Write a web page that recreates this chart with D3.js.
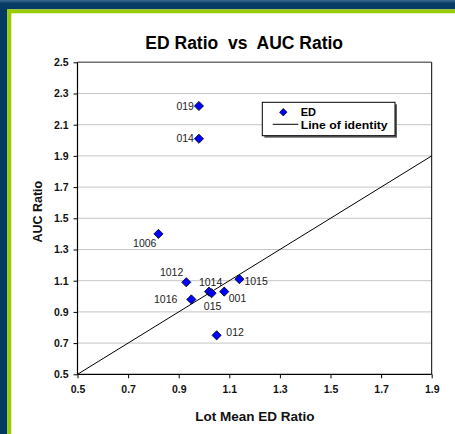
<!DOCTYPE html>
<html>
<head>
<meta charset="utf-8">
<script src="https://cdn.jsdelivr.net/npm/d3@7"></script>
<style>
  body { margin: 0; background: #fff; }
  svg { display: block; }
  text { font-family: "Liberation Sans", Arial, Helvetica, sans-serif; }
</style>
</head>
<body>
<svg id="chart" width="455" height="434"></svg>
<script>
// Lot identifiers and their ratios
const lots     = ["019", "014", "1006", "1012", "1014", "015", "001", "1016", "1015", "012"];
const edRatio  = [0.98, 0.98, 0.82, 0.93, 1.02, 1.03, 1.08, 0.95, 1.14, 1.05];
const aucRatio = [2.22, 2.01, 1.40, 1.09, 1.03, 1.02, 1.03, 0.98, 1.11, 0.75];

// Axis ticks
const xTicks = [0.5, 0.7, 0.9, 1.1, 1.3, 1.5, 1.7, 1.9];
const yTicks = [0.5, 0.7, 0.9, 1.1, 1.3, 1.5, 1.7, 1.9, 2.1, 2.3, 2.5];

// Line of identity end points (x = y)
const identity = [0.5, 1.9];

const points = lots.map((lot, i) => ({ lot, ed: edRatio[i], auc: aucRatio[i] }));

// Where each point label sits relative to its marker
const labelPlacement = {
  "019":  { anchor: "end",    dx: -5,   dy: 3.6 },
  "014":  { anchor: "end",    dx: -5,   dy: 3.6 },
  "1006": { anchor: "end",    dx: -2,   dy: 12.7 },
  "1012": { anchor: "end",    dx: -3,   dy: -6 },
  "1014": { anchor: "middle", dx: 1.5,  dy: -6 },
  "015":  { anchor: "middle", dx: 1,    dy: 17 },
  "001":  { anchor: "start",  dx: 4.5,  dy: 10 },
  "1016": { anchor: "end",    dx: -14,  dy: 4 },
  "1015": { anchor: "start",  dx: 5,    dy: 5.7 },
  "012":  { anchor: "start",  dx: 9.7,  dy: 0.7 }
};

const svg = d3.select("#chart");
const W = 455, H = 434;

// Frame: dark blue bars on top and left, lime stripe inside them
const defs = svg.append("defs");
const grad = defs.append("linearGradient").attr("id", "topbar")
  .attr("x1", 0).attr("y1", 0).attr("x2", 0).attr("y2", 1);
grad.append("stop").attr("offset", "0%").attr("stop-color", "#3d6a90");
grad.append("stop").attr("offset", "35%").attr("stop-color", "#0a3d66");
grad.append("stop").attr("offset", "100%").attr("stop-color", "#033a63");

svg.append("rect").attr("x", 0).attr("y", 0).attr("width", W).attr("height", H).attr("fill", "#fff");
svg.append("rect").attr("x", 0).attr("y", 0).attr("width", 7.3).attr("height", H).attr("fill", "#033a63");
svg.append("rect").attr("x", 0).attr("y", 0).attr("width", W).attr("height", 9.4).attr("fill", "url(#topbar)");
svg.append("rect").attr("x", 7.3).attr("y", 9.4).attr("width", W - 7.3).attr("height", 3.9).attr("fill", "#99cc00");
svg.append("rect").attr("x", 7.3).attr("y", 9.4).attr("width", 4).attr("height", H - 9.4).attr("fill", "#99cc00");

// Plot area
const plot = { left: 77.5, right: 431.7, top: 62.3, bottom: 374.3 };
const x = d3.scaleLinear().domain([0.5, 1.9]).range([plot.left, plot.right]);
const y = d3.scaleLinear().domain([0.5, 2.5]).range([plot.bottom, plot.top]);

// Horizontal gridlines
svg.append("g")
  .selectAll("line")
  .data(yTicks.filter(v => v > 0.5 && v < 2.5))
  .join("line")
  .attr("x1", plot.left).attr("x2", plot.right)
  .attr("y1", d => y(d)).attr("y2", d => y(d))
  .attr("stroke", "#c4c4c4").attr("stroke-width", 1);

// Plot border: grey top, black right
svg.append("line")
  .attr("x1", plot.left).attr("x2", plot.right)
  .attr("y1", y(2.5)).attr("y2", y(2.5))
  .attr("stroke", "#707070").attr("stroke-width", 1.5);
svg.append("line")
  .attr("x1", plot.right).attr("x2", plot.right)
  .attr("y1", plot.top).attr("y2", plot.bottom)
  .attr("stroke", "#000").attr("stroke-width", 1);

const tickFont = "bold 10.5px 'Liberation Sans', Arial, sans-serif";

// X axis
const xAxis = svg.append("g")
  .attr("transform", `translate(0,${plot.bottom})`)
  .call(d3.axisBottom(x).tickValues(xTicks).tickFormat(d3.format(".1f")).tickSize(4).tickPadding(7));
// Y axis
const yAxis = svg.append("g")
  .attr("transform", `translate(${plot.left},0)`)
  .call(d3.axisLeft(y).tickValues(yTicks).tickFormat(d3.format(".1f")).tickSize(4).tickPadding(5));

[xAxis, yAxis].forEach(g => {
  g.select(".domain").attr("stroke", "#000").attr("stroke-width", 1.2);
  g.selectAll(".tick line").attr("stroke", "#000");
  g.selectAll(".tick text")
    .attr("fill", "#111")
    .style("font", tickFont);
});
xAxis.select(".domain").attr("d", `M${plot.left},0H${plot.right}`);
yAxis.select(".domain").attr("d", `M0,${plot.top}V${plot.bottom}`);

// Line of identity
svg.append("line")
  .attr("x1", x(identity[0])).attr("y1", y(identity[0]))
  .attr("x2", x(identity[1])).attr("y2", y(identity[1]))
  .attr("stroke", "#000").attr("stroke-width", 1);

// Diamond markers
const r = 4.6;
const diamond = (cx, cy, rad = r) =>
  `M${cx},${cy - rad}L${cx + rad},${cy}L${cx},${cy + rad}L${cx - rad},${cy}Z`;

svg.append("g")
  .selectAll("path")
  .data(points)
  .join("path")
  .attr("d", d => diamond(x(d.ed), y(d.auc)))
  .attr("fill", "#0000ff")
  .attr("stroke", "#000")
  .attr("stroke-width", 0.8);

// Point labels
svg.append("g")
  .selectAll("text")
  .data(points)
  .join("text")
  .attr("x", d => x(d.ed) + labelPlacement[d.lot].dx)
  .attr("y", d => y(d.auc) + labelPlacement[d.lot].dy)
  .attr("text-anchor", d => labelPlacement[d.lot].anchor)
  .attr("font-size", 10.5)
  .attr("fill", "#222")
  .text(d => d.lot);

// Title
svg.append("text")
  .attr("x", 244.2).attr("y", 49)
  .attr("text-anchor", "middle")
  .attr("font-size", 17.5).attr("font-weight", "bold")
  .style("white-space", "pre")
  .attr("fill", "#000")
  .text("ED Ratio  vs  AUC Ratio");

// Axis titles
svg.append("text")
  .attr("x", 255).attr("y", 421)
  .attr("text-anchor", "middle")
  .attr("font-size", 13.5).attr("font-weight", "bold")
  .attr("fill", "#111")
  .text("Lot Mean ED Ratio");

svg.append("text")
  .attr("transform", "translate(41.7,211.7) rotate(-90)")
  .attr("text-anchor", "middle")
  .attr("font-size", 12.5).attr("font-weight", "bold")
  .attr("fill", "#111")
  .text("AUC Ratio");

// Legend
const lg = { x: 262.3, y: 102.3, w: 132.7, h: 33.4 };
const legend = svg.append("g");
legend.append("rect")
  .attr("x", lg.x + 2).attr("y", lg.y + 2).attr("width", lg.w).attr("height", lg.h)
  .attr("fill", "#606060");
legend.append("rect")
  .attr("x", lg.x).attr("y", lg.y).attr("width", lg.w).attr("height", lg.h)
  .attr("fill", "#fff").attr("stroke", "#000").attr("stroke-width", 1);
legend.append("path")
  .attr("d", diamond(283.3, 112.2, 3.7))
  .attr("fill", "#0000ff").attr("stroke", "#000").attr("stroke-width", 0.8);
legend.append("line")
  .attr("x1", 272.7).attr("x2", 298.3).attr("y1", 124.3).attr("y2", 124.3)
  .attr("stroke", "#000").attr("stroke-width", 1);
legend.append("text")
  .attr("x", 300.7).attr("y", 116)
  .attr("font-size", 11).attr("font-weight", "bold").attr("fill", "#000")
  .text("ED");
legend.append("text")
  .attr("x", 300.7).attr("y", 128.6)
  .attr("font-size", 11).attr("font-weight", "bold").attr("fill", "#000")
  .attr("textLength", 87).attr("lengthAdjust", "spacingAndGlyphs")
  .text("Line of identity");
</script>
</body>
</html>
